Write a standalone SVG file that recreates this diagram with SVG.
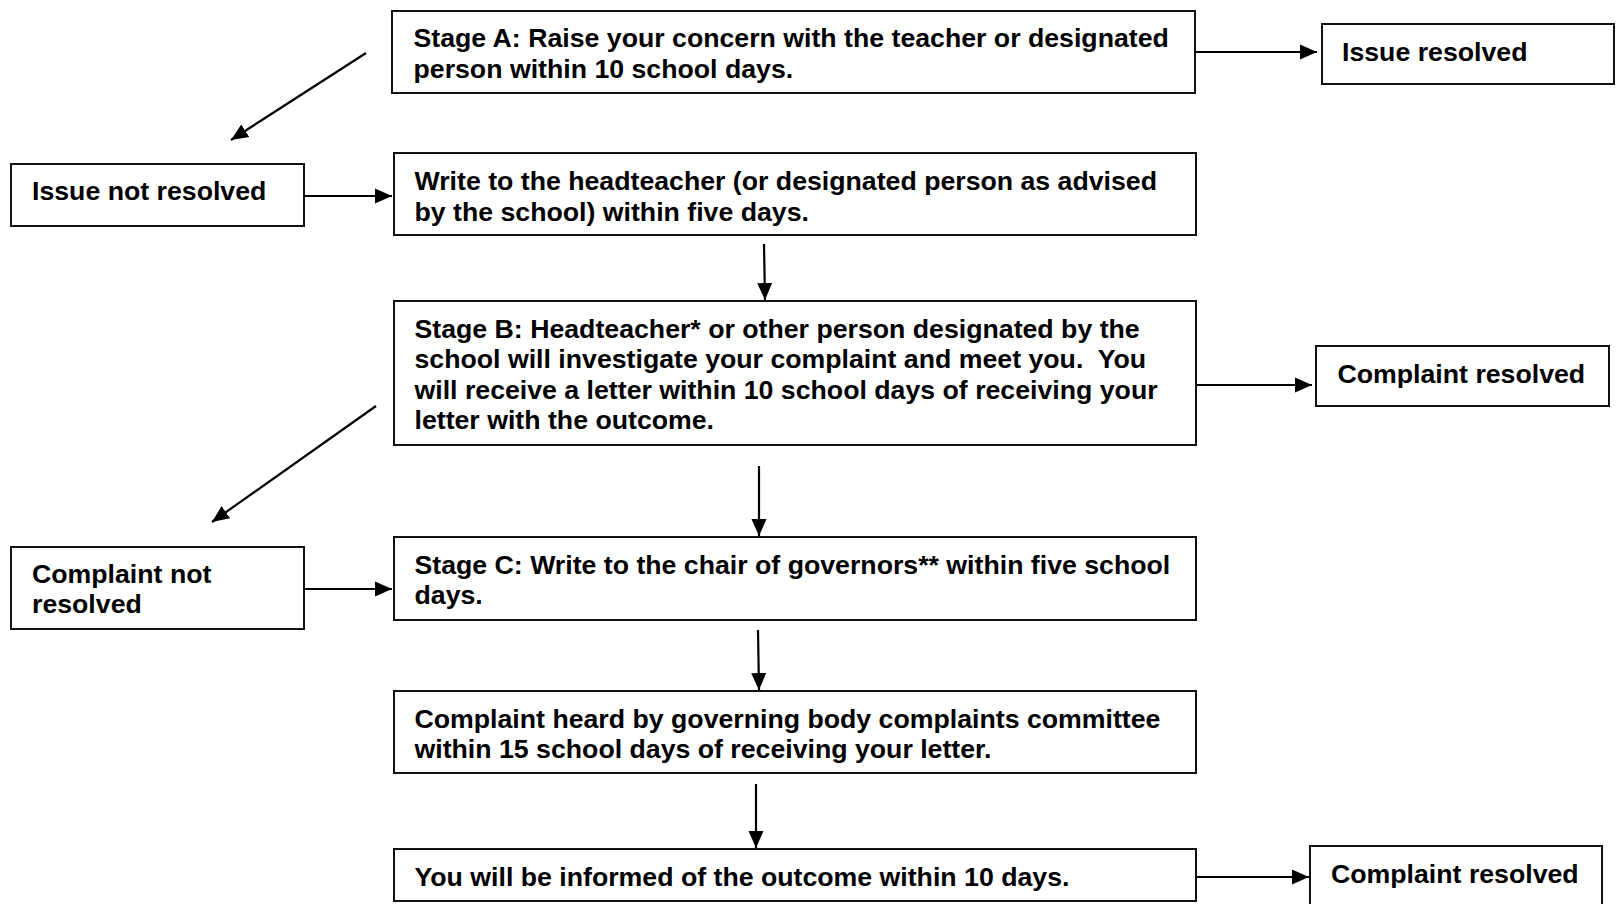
<svg xmlns="http://www.w3.org/2000/svg" width="1617" height="904" viewBox="0 0 1617 904">
<defs>
<style>
.box{fill:#fff;stroke:#111;stroke-width:2}
.t{font-family:"Liberation Sans",Arial,sans-serif;font-weight:bold;font-size:26.7px;fill:#000;white-space:pre}
.c{stroke:#000;stroke-width:2.2;fill:none;marker-end:url(#ah)}
</style>
<marker id="ah" markerUnits="userSpaceOnUse" markerWidth="18" markerHeight="16" refX="17" refY="7.5" orient="auto" viewBox="0 0 18 15">
<path d="M0,0 L17,7.5 L0,15 z" fill="#000"/>
</marker>
</defs>
<rect width="1617" height="904" fill="#fff"/>
<g id="connectors">
<line class="c" x1="1195" y1="52" x2="1317" y2="52"/>
<line class="c" x1="366" y1="53" x2="231" y2="140"/>
<line class="c" x1="304" y1="196" x2="392" y2="196"/>
<line class="c" x1="764" y1="244" x2="765" y2="300"/>
<line class="c" x1="1196" y1="385" x2="1312" y2="385"/>
<line class="c" x1="376" y1="406" x2="212" y2="522"/>
<line class="c" x1="759" y1="466" x2="759" y2="536"/>
<line class="c" x1="304" y1="589" x2="392" y2="589"/>
<line class="c" x1="758" y1="630" x2="759" y2="690"/>
<line class="c" x1="756" y1="784" x2="756" y2="848"/>
<line class="c" x1="1196" y1="877" x2="1309" y2="877"/>
</g>
<g id="stageA">
<rect class="box" x="392" y="11" width="803" height="82"/>
<text class="t" x="413.5" y="47">Stage A: Raise your concern with the teacher or designated</text>
<text class="t" x="413.5" y="77.5">person within 10 school days.</text>
</g>
<g id="issueResolved">
<rect class="box" x="1322" y="24" width="292" height="60"/>
<text class="t" x="1342" y="61">Issue resolved</text>
</g>
<g id="issueNotResolved">
<rect class="box" x="11" y="164" width="293" height="62"/>
<text class="t" x="32" y="200">Issue not resolved</text>
</g>
<g id="writeHead">
<rect class="box" x="394" y="153" width="802" height="82"/>
<text class="t" x="414.5" y="190">Write to the headteacher (or designated person as advised</text>
<text class="t" x="414.5" y="220.5">by the school) within five days.</text>
</g>
<g id="stageB">
<rect class="box" x="394" y="301" width="802" height="144"/>
<text class="t" x="414.5" y="337.5">Stage B: Headteacher* or other person designated by the</text>
<text class="t" x="414.5" y="368">school will investigate your complaint and meet you.  You</text>
<text class="t" x="414.5" y="398.5">will receive a letter within 10 school days of receiving your</text>
<text class="t" x="414.5" y="429">letter with the outcome.</text>
</g>
<g id="complaintResolved1">
<rect class="box" x="1316" y="346" width="293" height="60"/>
<text class="t" x="1337.5" y="383">Complaint resolved</text>
</g>
<g id="complaintNotResolved">
<rect class="box" x="11" y="547" width="293" height="82"/>
<text class="t" x="32" y="582.5">Complaint not</text>
<text class="t" x="32" y="612.5">resolved</text>
</g>
<g id="stageC">
<rect class="box" x="394" y="537" width="802" height="83"/>
<text class="t" x="414.5" y="573.5">Stage C: Write to the chair of governors** within five school</text>
<text class="t" x="414.5" y="604">days.</text>
</g>
<g id="committee">
<rect class="box" x="394" y="691" width="802" height="82"/>
<text class="t" x="414.5" y="728">Complaint heard by governing body complaints committee</text>
<text class="t" x="414.5" y="758">within 15 school days of receiving your letter.</text>
</g>
<g id="outcome">
<rect class="box" x="394" y="849" width="802" height="52"/>
<text class="t" x="414.5" y="886">You will be informed of the outcome within 10 days.</text>
</g>
<g id="complaintResolved2">
<rect class="box" x="1310" y="846" width="292" height="70"/>
<text class="t" x="1331" y="883">Complaint resolved</text>
</g>
</svg>
